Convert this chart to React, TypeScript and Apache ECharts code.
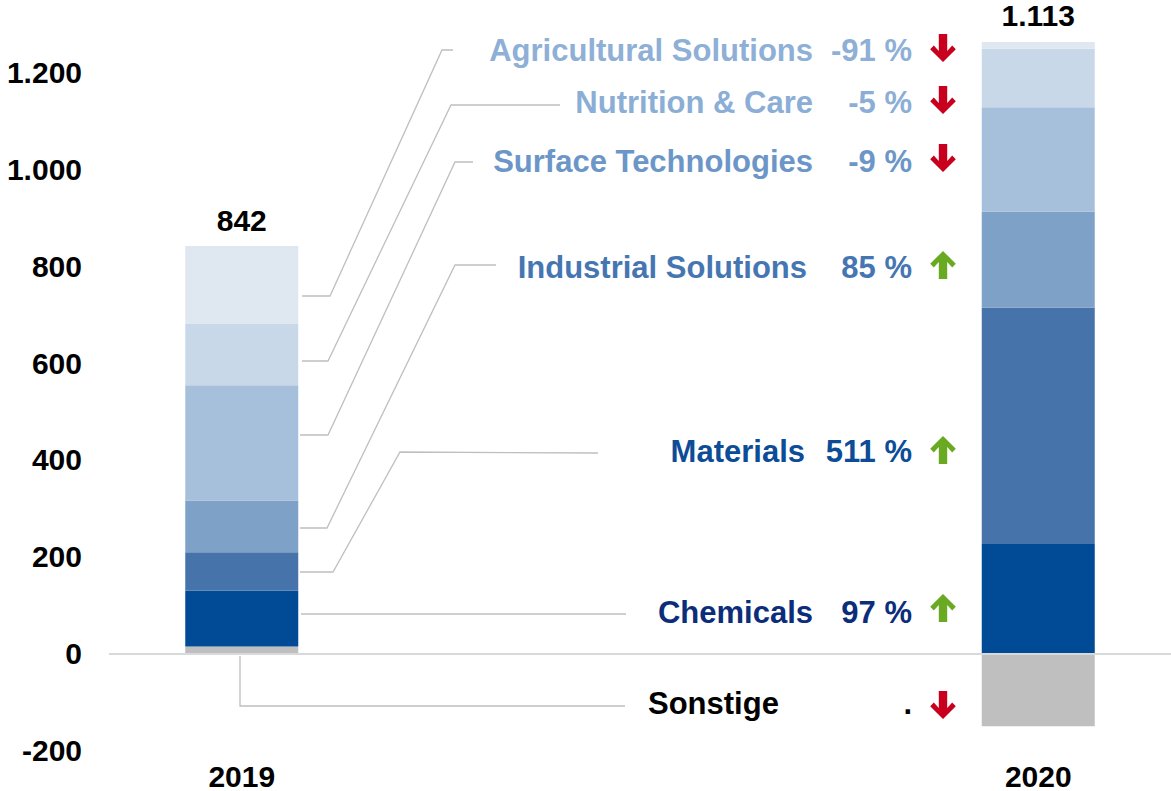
import React, { useEffect, useRef } from "react";
import * as echarts from "echarts";

// ---- data ----
const categories = ["2019", "", " ", "2020"];
const segments = [
  "Sonstige",
  "Chemicals",
  "Materials",
  "Industrial Solutions",
  "Surface Technologies",
  "Nutrition & Care",
  "Agricultural Solutions",
];
const values2019 = [14, 115, 80, 107, 238, 127, 161];
const values2020 = [-151, 226, 489, 198, 216, 121, 14];
const changes = [".", "97 %", "511 %", "85 %", "-9 %", "-5 %", "-91 %"];
const totals = [842, 1113];
const yTicks = { min: -200, max: 1300, interval: 200 };

// ---- styling ----
const FONT = '"Liberation Sans", Arial, Helvetica, sans-serif';
const barColors = ["#BFBFBF", "#004A96", "#4674AA", "#7EA1C7", "#A6BFDA", "#C9D8E8", "#DFE7F1"];
const textColors = ["#000000", "#0B2D7A", "#0D4C97", "#4676B2", "#6C96C7", "#8BAED6", "#8EAFD6"];

// annotation layout (pixels)
const labelLayout = [
  { nameX: 648, align: "left", y: 703, pctX: 912, arrowY: 705 },
  { nameX: 813, align: "right", y: 612, pctX: 912, arrowY: 608 },
  { nameX: 805, align: "right", y: 451, pctX: 912, arrowY: 450 },
  { nameX: 807, align: "right", y: 267, pctX: 912, arrowY: 265 },
  { nameX: 813, align: "right", y: 161, pctX: 912, arrowY: 158 },
  { nameX: 813, align: "right", y: 102, pctX: 912, arrowY: 100 },
  { nameX: 813, align: "right", y: 50, pctX: 912, arrowY: 48 },
];
const connectors = [
  [[240, 656], [240, 706], [625, 706]],
  [[301, 614], [626, 614]],
  [[300, 572], [333, 572], [400, 452], [598, 453]],
  [[300, 528], [327, 528], [455, 265], [496, 265]],
  [[300, 435], [328, 435], [455, 162], [473, 162]],
  [[302, 361], [328, 361], [451, 105], [560, 105]],
  [[302, 296], [330, 296], [442, 50], [453, 50]],
];

function fmt(v: number): string {
  const s = String(Math.abs(v)).replace(/\B(?=(\d{3})+(?!\d))/g, ".");
  return v < 0 ? "-" + s : s;
}

function arrow(cx: number, cy: number, up: boolean, color: string) {
  const h = 14;
  const w = 12.8;
  const pts = [
    [-4.2, -h], [4.2, -h], [4.2, 3], [9.2, -2.6], [w, 1.2],
    [0, h], [-w, 1.2], [-9.2, -2.6], [-4.2, 3],
  ];
  return {
    type: "polygon",
    silent: true,
    shape: { points: pts.map(([x, y]) => [cx + x, cy + (up ? -y : y)]) },
    style: { fill: color },
  };
}

export default function App() {
  const ref = useRef<HTMLDivElement>(null);

  useEffect(() => {
    if (!ref.current) return;
    const chart = echarts.init(ref.current, undefined, { renderer: "svg" });

    const last = segments.length - 1;
    const barSeries: any[] = segments.map((name, i) => ({
      name,
      type: "bar",
      stack: "total",
      barWidth: 113,
      data: [values2019[i], null, null, values2020[i]],
      itemStyle: { color: barColors[i] },
      emphasis: { disabled: true },
      silent: true,
      z: 2,
      ...(i === last
        ? {
            label: {
              show: true,
              position: "top",
              distance: 11,
              color: "#000000",
              fontFamily: FONT,
              fontWeight: "bold",
              fontSize: 30,
              formatter: (p: any) => fmt(totals[p.dataIndex === 0 ? 0 : 1]),
            },
          }
        : {}),
      ...(i === 0
        ? {
            markLine: {
              silent: true,
              symbol: "none",
              label: { show: false },
              lineStyle: { color: "#D9D9D9", width: 2, type: "solid" },
              data: [{ yAxis: 0 }],
            },
          }
        : {}),
    }));

    const graphics: any[] = [];
    connectors.forEach((pts) => {
      graphics.push({
        type: "polyline",
        silent: true,
        shape: { points: pts },
        style: { stroke: "#BFBFBF", lineWidth: 1.3, fill: null },
      });
    });
    segments.forEach((name, i) => {
      const L = labelLayout[i];
      graphics.push({
        type: "text",
        silent: true,
        x: L.nameX,
        y: L.y,
        style: {
          text: name,
          fill: textColors[i],
          font: `bold 31px ${FONT}`,
          align: L.align,
          verticalAlign: "middle",
        },
      });
      graphics.push({
        type: "text",
        silent: true,
        x: L.pctX,
        y: L.y,
        style: {
          text: changes[i],
          fill: textColors[i],
          font: `bold 31px ${FONT}`,
          align: "right",
          verticalAlign: "middle",
        },
      });
      const up = values2020[i] > values2019[i];
      graphics.push(arrow(943, L.arrowY, up, up ? "#6AAA22" : "#C8001E"));
    });

    chart.setOption({
      animation: false,
      grid: { left: 109, width: 1064, top: 24.5, bottom: 41 },
      xAxis: {
        type: "category",
        data: categories,
        axisLine: { show: false },
        axisTick: { show: false },
        axisLabel: {
          interval: 0,
          margin: 11,
          color: "#000",
          fontFamily: FONT,
          fontWeight: "bold",
          fontSize: 30,
          formatter: (v: string) => v.trim(),
        },
      },
      yAxis: {
        type: "value",
        min: yTicks.min,
        max: yTicks.max,
        interval: yTicks.interval,
        axisLine: { show: false },
        axisTick: { show: false },
        splitLine: { show: false },
        axisLabel: {
          showMaxLabel: false,
          margin: 27,
          color: "#000",
          fontFamily: FONT,
          fontWeight: "bold",
          fontSize: 30,
          formatter: (v: number) => fmt(v),
        },
      },
      series: barSeries,
      graphic: graphics,
    });

    return () => chart.dispose();
  }, []);

  return (
    <div
      ref={ref}
      style={{ position: "absolute", left: 0, top: 0, width: 1171, height: 791, background: "#fff" }}
    />
  );
}
